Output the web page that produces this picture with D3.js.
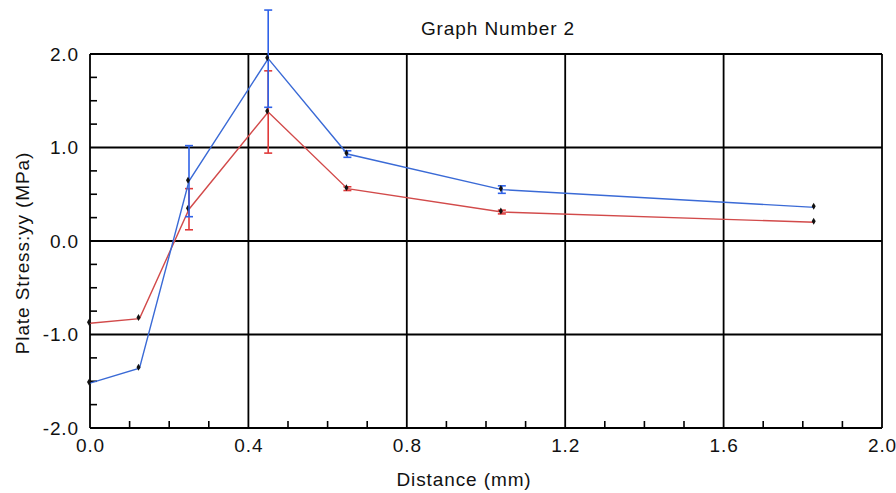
<!DOCTYPE html>
<html>
<head>
<meta charset="utf-8">
<script src="https://cdn.jsdelivr.net/npm/d3@7"></script>
<style>
  html, body { margin: 0; padding: 0; background: #fff; }
  svg { display: block; }
  text { font-family: "Liberation Sans", Arial, sans-serif; fill: #111; letter-spacing: 0.9px; }
</style>
</head>
<body>
<svg id="chart" width="896" height="493"></svg>
<script>
// Plate stress (yy component) measured along distance, two series with error bars
const distance = [0.0, 0.125, 0.25, 0.45, 0.65, 1.04, 1.83];
const seriesBlue = [-1.52, -1.36, 0.64, 1.95, 0.93, 0.55, 0.36];
const errorBlue  = [0, 0, 0.38, 0.52, 0.035, 0.04, 0];
const seriesRed  = [-0.88, -0.83, 0.34, 1.38, 0.56, 0.31, 0.20];
const errorRed   = [0, 0, 0.22, 0.44, 0.02, 0.02, 0];

const xTicks = [0.0, 0.4, 0.8, 1.2, 1.6, 2.0];
const yTicks = [-2.0, -1.0, 0.0, 1.0, 2.0];

const titleText = "Graph Number 2";
const xTitle = "Distance (mm)";
const yTitle = "Plate Stress:yy (MPa)";

const svg = d3.select("#chart");
const plotL = 90, plotR = 882, plotT = 54, plotB = 428;
const fontSize = 19;

const x = d3.scaleLinear().domain([0, 2]).range([plotL, plotR]);
const y = d3.scaleLinear().domain([-2, 2]).range([plotB, plotT]);

// one decimal, plain hyphen for negatives
const fmt = d => d3.format(".1f")(d).replace("\u2212", "-");

// Grid lines at major ticks
const grid = svg.append("g").attr("stroke", "#000").attr("stroke-width", 1.8);
grid.selectAll(".gx").data(xTicks).join("line")
  .attr("x1", d => x(d)).attr("x2", d => x(d))
  .attr("y1", plotT).attr("y2", plotB);
grid.selectAll(".gy").data(yTicks).join("line")
  .attr("x1", plotL).attr("x2", plotR)
  .attr("y1", d => y(d)).attr("y2", d => y(d));

// Axes with minor ticks pointing into the plot
const xAxis = d3.axisBottom(x).tickValues(xTicks).tickFormat(fmt).tickSize(0).tickPadding(11);
const gx = svg.append("g").attr("transform", `translate(0,${plotB})`).call(xAxis);
gx.select(".domain").remove();
gx.selectAll("text").attr("font-size", fontSize).attr("font-family", "Liberation Sans, Arial, sans-serif").attr("fill", "#111");

const yAxis = d3.axisLeft(y).tickValues(yTicks).tickFormat(fmt).tickSize(0).tickPadding(11);
const gy = svg.append("g").attr("transform", `translate(${plotL},0)`).call(yAxis);
gy.select(".domain").remove();
gy.selectAll("text").attr("font-size", fontSize).attr("font-family", "Liberation Sans, Arial, sans-serif").attr("fill", "#111");

const xMinor = d3.range(0, 2.0001, 0.1).filter(v => !xTicks.some(t => Math.abs(t - v) < 1e-6));
const yMinor = d3.range(-2, 2.0001, 0.25).filter(v => !yTicks.some(t => Math.abs(t - v) < 1e-6));
const minor = svg.append("g").attr("stroke", "#000").attr("stroke-width", 1.6);
minor.selectAll(".mx").data(xMinor).join("line")
  .attr("x1", d => x(d)).attr("x2", d => x(d))
  .attr("y1", plotB).attr("y2", plotB - 7);
minor.selectAll(".my").data(yMinor).join("line")
  .attr("x1", plotL).attr("x2", plotL + 7)
  .attr("y1", d => y(d)).attr("y2", d => y(d));

// Series: error bars, line, point markers
function drawSeries(vals, errs, lineColor, barColor) {
  const pts = distance.map((d, i) => ({ x: d, y: vals[i], e: errs[i] }));
  const g = svg.append("g");
  const withErr = pts.filter(p => p.e > 0);
  g.selectAll(".ebar").data(withErr).join("line")
    .attr("x1", p => x(p.x)).attr("x2", p => x(p.x))
    .attr("y1", p => y(p.y - p.e)).attr("y2", p => y(p.y + p.e))
    .attr("stroke", barColor).attr("stroke-width", 1.6);
  [-1, 1].forEach(s => {
    g.selectAll(".ecap" + (s > 0 ? "u" : "d")).data(withErr).join("line")
      .attr("class", "ecap" + (s > 0 ? "u" : "d"))
      .attr("x1", p => x(p.x) - 4).attr("x2", p => x(p.x) + 4)
      .attr("y1", p => y(p.y + s * p.e)).attr("y2", p => y(p.y + s * p.e))
      .attr("stroke", barColor).attr("stroke-width", 1.6);
  });
  g.append("path").datum(pts)
    .attr("fill", "none").attr("stroke", lineColor).attr("stroke-width", 1.4)
    .attr("d", d3.line().x(p => x(p.x)).y(p => y(p.y)));
  g.selectAll(".mk").data(pts).join("path")
    .attr("transform", p => `translate(${x(p.x) - 1},${y(p.y) - 1})`)
    .attr("d", d3.symbol().type(d3.symbolDiamond).size(14))
    .attr("fill", "#111");
}
drawSeries(seriesRed, errorRed, "#d24a4a", "#e03a3a");
drawSeries(seriesBlue, errorBlue, "#3a6ad6", "#2f62e8");

// Titles
svg.append("text").attr("x", 498).attr("y", 35).attr("text-anchor", "middle")
  .attr("font-size", fontSize).text(titleText);
svg.append("text").attr("x", 464).attr("y", 486).attr("text-anchor", "middle")
  .attr("font-size", fontSize).text(xTitle);
svg.append("text").attr("transform", "translate(29,253) rotate(-90)").attr("text-anchor", "middle")
  .attr("font-size", fontSize).text(yTitle);
</script>
</body>
</html>
